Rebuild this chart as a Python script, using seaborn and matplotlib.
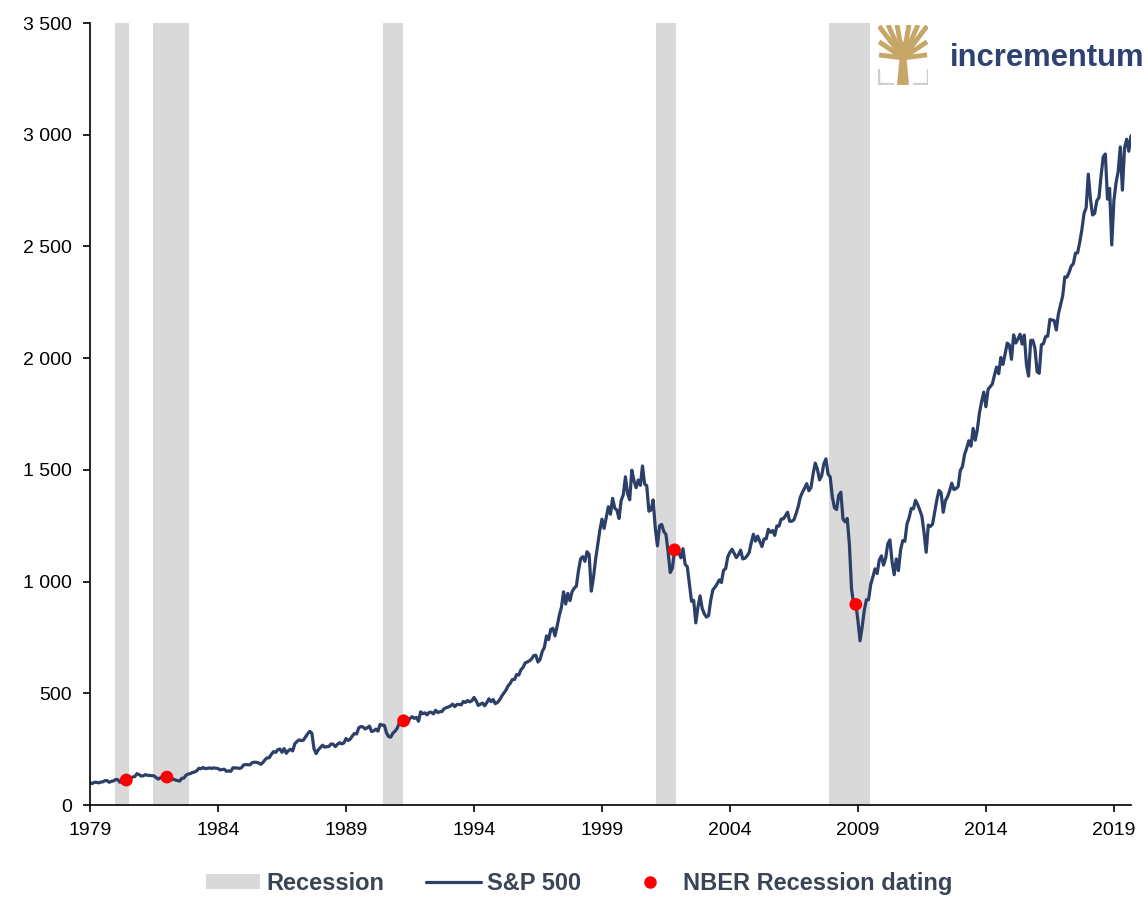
import matplotlib

matplotlib.use("Agg")
import matplotlib.pyplot as plt  # noqa: E402
import seaborn as sns  # noqa: E402
from matplotlib import font_manager  # noqa: E402
from matplotlib.lines import Line2D  # noqa: E402
from matplotlib.patches import Patch, Polygon  # noqa: E402
from matplotlib.ticker import FuncFormatter  # noqa: E402

import pandas as pd

# S&P 500 month-end closes, Jan 1979 .. Sep 2019
first_month = "1979-01"
sp500 = [
    99.9, 96.3, 101.6, 101.8, 99.1, 102.9, 103.8, 109.3, 109.3, 101.8, 106.2, 107.9,
    114.2, 113.7, 102.1, 106.3, 111.2, 114.2, 121.7, 122.4, 125.5, 127.5, 140.5, 135.8,
    129.6, 131.3, 136.0, 132.8, 132.6, 131.2, 130.9, 122.8, 116.2, 121.9, 126.4, 122.6,
    120.4, 113.1, 112.0, 116.4, 111.9, 109.6, 107.1, 119.5, 120.4, 133.7, 138.5, 140.6,
    145.3, 148.1, 153.0, 164.4, 162.4, 168.1, 162.6, 164.4, 166.1, 163.6, 166.4, 164.9,
    163.4, 157.1, 159.2, 160.1, 150.6, 153.2, 150.7, 166.7, 166.1, 166.1, 163.6, 167.2,
    179.6, 181.2, 180.7, 179.8, 189.6, 191.9, 190.9, 188.6, 182.1, 189.8, 202.2, 211.3,
    211.8, 226.9, 238.9, 235.5, 247.4, 250.8, 236.1, 252.9, 231.3, 244.0, 249.2, 242.2,
    274.1, 284.2, 291.7, 288.4, 290.1, 304.0, 318.7, 329.8, 321.8, 251.8, 230.3, 247.1,
    257.1, 267.8, 258.9, 261.3, 262.2, 273.5, 272.0, 261.5, 271.9, 279.0, 273.7, 277.7,
    297.5, 288.9, 294.9, 309.6, 320.5, 318.0, 346.1, 351.5, 349.2, 340.4, 346.0, 353.4,
    329.1, 331.9, 339.9, 330.8, 361.2, 358.0, 356.2, 322.6, 306.1, 304.0, 322.2, 330.2,
    343.9, 367.1, 375.2, 375.3, 389.8, 371.2, 387.8, 395.4, 387.9, 392.5, 375.2, 417.1,
    408.8, 412.7, 403.7, 415.0, 415.4, 408.1, 424.2, 414.0, 417.8, 418.7, 431.4, 435.7,
    438.8, 443.4, 451.7, 440.2, 450.2, 450.5, 448.1, 463.6, 458.9, 467.8, 461.8, 466.5,
    481.6, 467.1, 445.8, 450.9, 456.5, 444.3, 458.3, 475.5, 462.7, 472.4, 453.7, 459.3,
    470.4, 487.4, 500.7, 514.7, 533.4, 544.8, 562.1, 561.9, 584.4, 581.5, 605.4, 615.9,
    636.0, 640.4, 645.5, 654.2, 669.1, 670.6, 640.0, 652.0, 687.3, 705.3, 757.0, 740.7,
    786.2, 790.8, 757.1, 801.3, 848.3, 885.1, 954.3, 899.5, 947.3, 914.6, 955.4, 970.4,
    980.3, 1049.3, 1101.8, 1111.8, 1090.8, 1133.8, 1120.7, 957.3, 1017.0, 1098.7, 1163.6, 1229.2,
    1279.6, 1238.3, 1286.4, 1335.2, 1301.8, 1372.7, 1328.7, 1320.4, 1282.7, 1362.9, 1388.9, 1469.3,
    1394.5, 1366.4, 1498.6, 1452.4, 1420.6, 1454.6, 1430.8, 1517.7, 1436.5, 1429.4, 1315.2, 1320.3,
    1366.0, 1239.9, 1160.3, 1249.5, 1256.0, 1224.4, 1211.2, 1133.6, 1040.9, 1059.8, 1139.5, 1148.1,
    1130.2, 1106.7, 1147.4, 1076.9, 1067.1, 989.8, 911.6, 916.1, 815.3, 885.8, 936.3, 879.8,
    855.7, 841.2, 848.2, 916.9, 963.6, 974.5, 990.3, 1008.0, 996.0, 1050.7, 1058.2, 1112.0,
    1131.1, 1144.9, 1126.2, 1107.3, 1120.7, 1140.8, 1101.7, 1104.2, 1114.6, 1130.2, 1173.8, 1211.9,
    1181.3, 1203.6, 1180.6, 1156.9, 1191.5, 1191.3, 1234.2, 1220.3, 1228.8, 1207.0, 1249.5, 1248.3,
    1280.1, 1280.7, 1294.9, 1310.6, 1270.1, 1270.2, 1276.7, 1303.8, 1335.9, 1377.9, 1400.6, 1418.3,
    1438.2, 1406.8, 1420.9, 1482.4, 1530.6, 1503.4, 1455.3, 1474.0, 1526.8, 1549.4, 1481.1, 1468.4,
    1378.6, 1330.6, 1322.7, 1385.6, 1400.4, 1280.0, 1267.4, 1282.8, 1166.4, 968.8, 896.2, 903.3,
    825.9, 735.1, 797.9, 872.8, 919.1, 919.3, 987.5, 1020.6, 1057.1, 1036.2, 1095.6, 1115.1,
    1073.9, 1104.5, 1169.4, 1186.7, 1089.4, 1030.7, 1101.6, 1049.3, 1141.2, 1183.3, 1180.6, 1257.6,
    1286.1, 1327.2, 1325.8, 1363.6, 1345.2, 1320.6, 1292.3, 1218.9, 1131.4, 1253.3, 1247.0, 1257.6,
    1312.4, 1365.7, 1408.5, 1397.9, 1310.3, 1362.2, 1379.3, 1406.6, 1440.7, 1412.2, 1416.2, 1426.2,
    1498.1, 1514.7, 1569.2, 1597.6, 1630.7, 1606.3, 1685.7, 1633.0, 1681.6, 1756.5, 1806.0, 1848.4,
    1782.6, 1859.5, 1872.3, 1884.0, 1923.6, 1960.2, 1930.7, 2003.4, 1972.3, 2018.1, 2067.6, 2058.9,
    1995.0, 2104.5, 2067.9, 2085.5, 2107.4, 2063.1, 2103.8, 1972.2, 1920.0, 2079.4, 2080.4, 2043.9,
    1940.2, 1932.2, 2059.7, 2065.3, 2097.0, 2098.9, 2173.6, 2171.0, 2168.3, 2126.2, 2199.0, 2238.8,
    2278.9, 2363.6, 2362.7, 2384.2, 2411.8, 2423.4, 2470.3, 2471.7, 2519.4, 2575.3, 2647.6, 2673.6,
    2823.8, 2713.8, 2640.9, 2648.1, 2705.3, 2718.4, 2816.3, 2901.5, 2914.0, 2711.7, 2760.2, 2506.9,
    2704.1, 2784.5, 2834.4, 2945.8, 2752.1, 2941.8, 2980.4, 2926.5, 2995.0,
]

# NBER recessions (first and last month)
recession_start = ["1980-01", "1981-07", "1990-07", "2001-03", "2007-12"]
recession_end = ["1980-07", "1982-11", "1991-03", "2001-11", "2009-06"]

# NBER announcement of the peak, and S&P level at that time
nber_month = ["1980-06", "1982-01", "1991-04", "2001-11", "2008-12"]
nber_value = [112, 125, 377, 1142, 898]

year_ticks = [1979, 1984, 1989, 1994, 1999, 2004, 2009, 2014, 2019]


def decimal_year(months):
    d = pd.to_datetime(pd.Series(months))
    return d.dt.year + (d.dt.month - 1) / 12.0


dates = pd.date_range(first_month, periods=len(sp500), freq="MS")
df = pd.DataFrame({"t": dates.year + (dates.month - 1) / 12.0, "value": sp500})
dots = pd.DataFrame({"t": decimal_year(nber_month), "value": nber_value})
rec_lo = decimal_year(recession_start) - 0.5 / 12
rec_hi = decimal_year(recession_end) + 0.5 / 12

sns.set_style("ticks")
plt.rcParams["font.family"] = ["Liberation Sans", "DejaVu Sans"]

font_names = {f.name for f in font_manager.fontManager.ttflist}
has_narrow = "Liberation Sans Narrow" in font_names

NAVY = "#2c3f69"
GREY = "#d9d9d9"

fig = plt.figure(figsize=(11.47, 9.23), dpi=100)
ax = fig.add_axes([0.0785, 0.1278, 0.9075, 0.8472])

for lo, hi in zip(rec_lo, rec_hi):
    ax.axvspan(lo, hi, color=GREY, lw=0, zorder=0)

sns.lineplot(data=df, x="t", y="value", ax=ax, color=NAVY, lw=2.3, zorder=2)
sns.scatterplot(data=dots, x="t", y="value", ax=ax, color="#ff0000", s=85,
                edgecolor="none", zorder=3)

ax.set_xlim(df["t"].iloc[0], df["t"].iloc[-1])
ax.set_ylim(0, 3500)
ax.set_xticks(year_ticks)
ax.set_yticks(range(0, 3501, 500))
ax.yaxis.set_major_formatter(FuncFormatter(lambda v, p: f"{int(v):,}".replace(",", " ")))
ax.set_xlabel("")
ax.set_ylabel("")
sns.despine(ax=ax)
for s in ("left", "bottom"):
    ax.spines[s].set_linewidth(1.2)
    ax.spines[s].set_color("black")
ax.tick_params(axis="both", direction="out", length=5, width=1.2,
               labelsize=14, colors="black")
ax.tick_params(axis="x", pad=7)
ax.tick_params(axis="y", pad=8)

# legend
handles = [
    Patch(facecolor=GREY, edgecolor="none"),
    Line2D([], [], color=NAVY, lw=2.3),
    Line2D([], [], color="#ff0000", marker="o", ls="none", markersize=8),
]
labels = ["Recession", "S&P 500", "NBER Recession dating"]
if has_narrow:
    leg_font = {"family": "Liberation Sans Narrow", "weight": "bold", "size": 20.5}
else:
    leg_font = {"family": "Liberation Sans", "weight": "bold", "size": 17}
fig.legend(handles, labels, loc="center", bbox_to_anchor=(0.505, 0.043), ncol=3,
           frameon=False, prop=leg_font, labelcolor="#3a4454", handlelength=2.3,
           handleheight=0.55, columnspacing=1.8, handletextpad=0.25)

# logo
logo_size = 27 if has_narrow else 22.3
fig.text(0.828, 0.9285, "incrementum", color="#2e4272", ha="left", va="baseline",
         fontfamily=leg_font["family"], fontweight="bold", fontsize=logo_size)

lax = fig.add_axes([0.7655, 0.908, 0.0436, 0.065])
lax.set_xlim(0, 1)
lax.set_ylim(0, 1)
lax.axis("off")
GOLD = "#c6a767"
lax.add_patch(Polygon([(0.38, 0.0), (0.62, 0.0), (0.57, 0.45), (0.7, 0.72),
                       (0.3, 0.72), (0.43, 0.45)], closed=True, color=GOLD, lw=0))
for x_end, y_end in [(0.02, 0.98), (0.2, 1.0), (0.38, 1.0), (0.62, 1.0),
                     (0.8, 1.0), (0.98, 0.98), (0.02, 0.72), (0.98, 0.72),
                     (0.02, 0.5), (0.98, 0.5)]:
    lax.plot([0.5, x_end], [0.45, y_end], color=GOLD, lw=3.5, solid_capstyle="butt")
for xs in ([0.0, 0.0, 0.28], [1.0, 1.0, 0.72]):
    lax.plot(xs, [0.25, 0.02, 0.02], color="#d0d0d0", lw=2.5)

fig.savefig("out.png", dpi=100)
